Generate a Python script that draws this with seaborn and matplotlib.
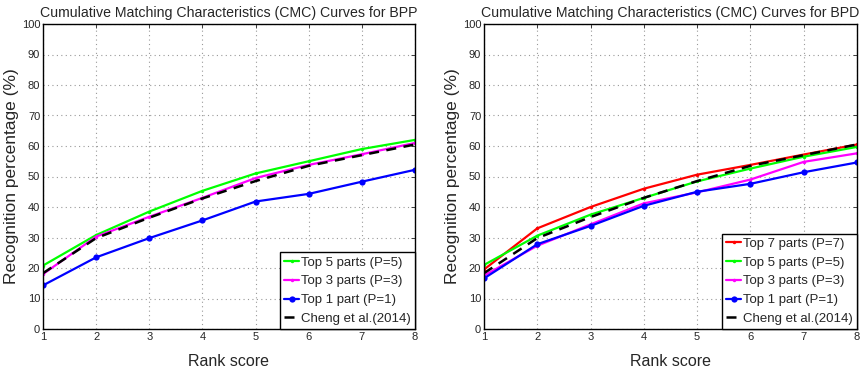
import matplotlib
matplotlib.use("Agg")
import matplotlib.pyplot as plt
import seaborn as sns
import pandas as pd

rank = [1, 2, 3, 4, 5, 6, 7, 8]

# Left panel (BPP)
bpp_top5 = [20.8, 30.8, 38.5, 45.3, 51.0, 55.0, 59.0, 62.0]
bpp_top3 = [18.0, 30.3, 36.8, 43.0, 49.5, 53.8, 57.3, 61.0]
bpp_top1 = [14.3, 23.5, 29.8, 35.6, 41.8, 44.3, 48.3, 52.2]
bpp_cheng = [18.3, 29.8, 36.5, 42.8, 48.5, 53.5, 57.0, 60.5]

# Right panel (BPD)
bpd_top7 = [19.5, 33.0, 40.0, 46.0, 50.6, 53.8, 57.2, 60.5]
bpd_top5 = [21.0, 30.6, 37.5, 43.0, 48.4, 52.6, 56.5, 59.7]
bpd_top3 = [17.5, 27.3, 34.3, 41.2, 44.8, 49.0, 54.8, 57.6]
bpd_top1 = [16.6, 27.8, 33.8, 40.4, 45.0, 47.6, 51.4, 54.6]
bpd_cheng = [18.3, 29.8, 36.7, 43.0, 48.5, 53.5, 57.0, 60.5]

titles = ["Cumulative Matching Characteristics (CMC) Curves for BPP",
          "Cumulative Matching Characteristics (CMC) Curves for BPD"]
xlabel = "Rank score"
ylabel = "Recognition percentage (%)"

lbl7 = "Top 7 parts (P=7)"
lbl5 = "Top 5 parts (P=5)"
lbl3 = "Top 3 parts (P=3)"
lbl1 = "Top 1 part (P=1)"
lblc = "Cheng et al.(2014)"

sns.set_style("white")
plt.rcParams['font.family'] = ['Liberation Sans', 'DejaVu Sans']
plt.rcParams['xtick.direction'] = 'in'
plt.rcParams['ytick.direction'] = 'in'

fig = plt.figure(figsize=(8.62, 3.73), dpi=100)
ax1 = fig.add_axes([43/862, 1-329/373, (415-43)/862, (329-24)/373])
ax2 = fig.add_axes([484/862, 1-329/373, (857-484)/862, (329-24)/373])

styles = {
    lbl7: dict(color="#ff0000", marker='o', markersize=2.5, lw=1.6, ls='-'),
    lbl5: dict(color="#00ff00", marker='o', markersize=2.5, lw=1.6, ls='-'),
    lbl3: dict(color="#ff00ff", marker='o', markersize=2.5, lw=1.6, ls='-'),
    lbl1: dict(color="#0000ff", marker='o', markersize=4.5, lw=1.6, ls='-'),
    lblc: dict(color="black", marker=None, lw=1.8, ls=(0, (4, 3))),
}

def draw(ax, series, title):
    for lbl, vals in series:
        st = styles[lbl]
        sns.lineplot(x=rank, y=vals, ax=ax, label=lbl, color=st['color'],
                     marker=st['marker'], markersize=st.get('markersize', 0),
                     linewidth=st['lw'], linestyle=st['ls'],
                     markeredgewidth=0, estimator=None, sort=False)
    ax.set_xlim(1, 8)
    ax.set_ylim(0, 100)
    ax.set_xticks(rank)
    ax.set_yticks(range(0, 101, 10))
    ax.tick_params(labelsize=8, length=3, width=0.6, top=True, right=True,
                   pad=2)
    ax.grid(True, color='#999999', linestyle=(0, (1, 3)), linewidth=0.8)
    for s in ax.spines.values():
        s.set_color('black')
        s.set_linewidth(1.0)
    ax.set_title(title, fontsize=10.2, pad=5)
    ax.set_xlabel(xlabel, fontsize=11.5, labelpad=9)
    ax.set_ylabel(ylabel, fontsize=12.5, labelpad=2)
    leg = ax.legend(loc='lower right', fontsize=9.5, frameon=True,
                    fancybox=False, borderaxespad=0, handlelength=1.15,
                    handletextpad=0.15, borderpad=0.3, labelspacing=0.5)
    leg.get_frame().set_edgecolor('black')
    leg.get_frame().set_linewidth(1.0)
    leg.get_frame().set_alpha(1)

draw(ax1, [(lbl5, bpp_top5), (lbl3, bpp_top3), (lbl1, bpp_top1), (lblc, bpp_cheng)], titles[0])
draw(ax2, [(lbl7, bpd_top7), (lbl5, bpd_top5), (lbl3, bpd_top3), (lbl1, bpd_top1), (lblc, bpd_cheng)], titles[1])

fig.savefig("out.png", dpi=100)
